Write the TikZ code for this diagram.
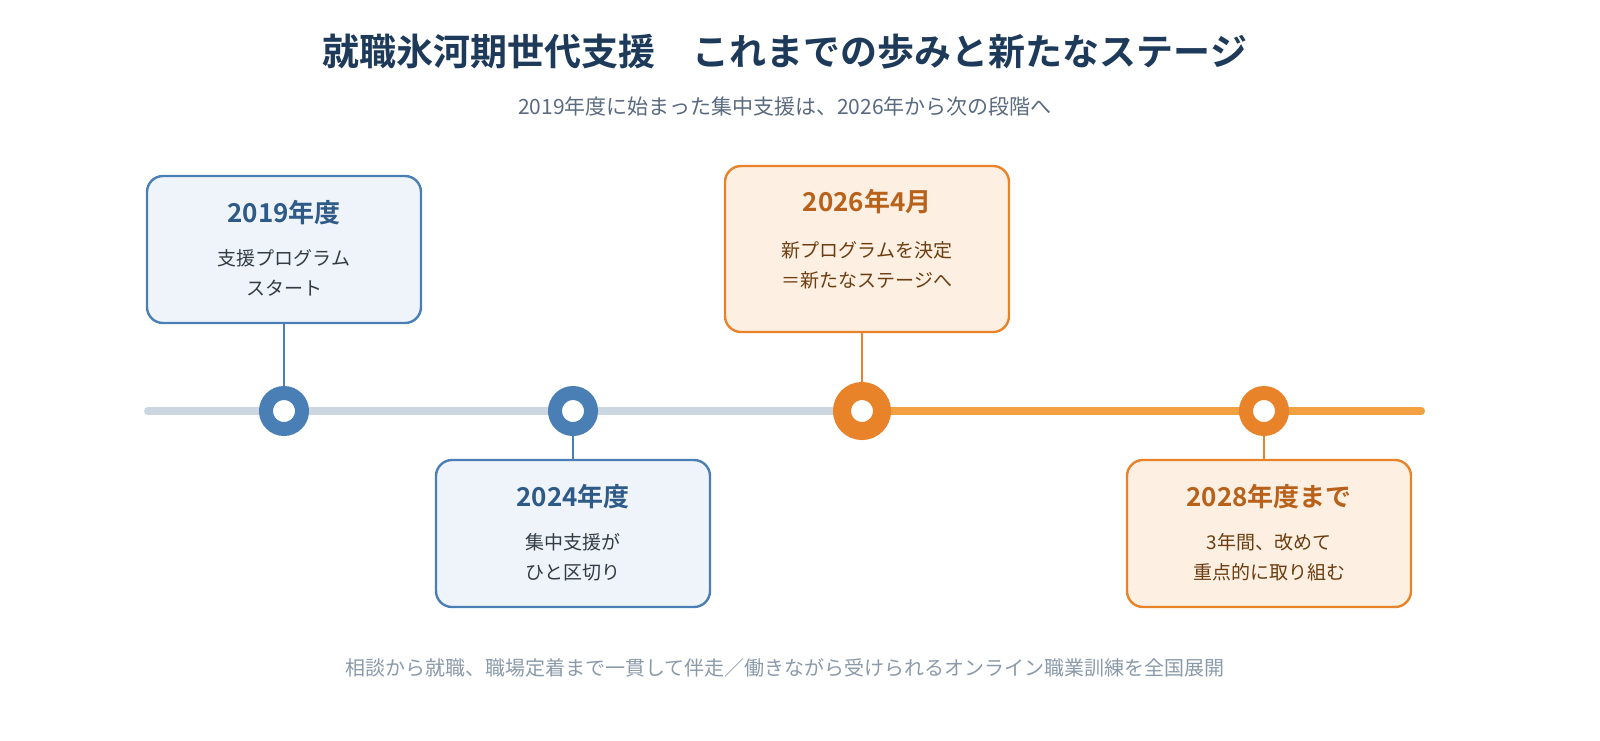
\documentclass[tikz,border=0pt]{standalone}
\usepackage{fontspec}
\setmainfont{Noto Sans CJK JP}[BoldFont=Noto Sans CJK JP Bold]
\definecolor{navy}{HTML}{1E3A5A}
\definecolor{sub}{HTML}{5A6A80}
\definecolor{blueM}{HTML}{4A7FB5}
\definecolor{blueL}{HTML}{EEF4FA}
\definecolor{orgM}{HTML}{E8832A}
\definecolor{orgL}{HTML}{FDF0E2}
\definecolor{grayL}{HTML}{CCD6E0}
\definecolor{orgLine}{HTML}{F2A040}
\definecolor{blueT}{HTML}{2E5A88}
\definecolor{orgT}{HTML}{B8611A}
\definecolor{dk}{HTML}{333B45}
\definecolor{br}{HTML}{6B3D10}
\definecolor{foot}{HTML}{8A9AAA}
\begin{document}
\begin{tikzpicture}[x=0.5pt,y=-0.5pt,
  box/.style={draw,line width=1.2pt,rounded corners=8pt,align=center,inner sep=0pt},
  bbox/.style={box,draw=blueM,fill=blueL},
  obox/.style={box,draw=orgM,fill=orgL},
  dot/.style={circle,fill=white,inner sep=0pt},
  yr/.style={font=\bfseries\fontsize{13}{15}\selectfont},
  bd/.style={align=center,font=\fontsize{9.5}{15}\selectfont}]
\node[text=navy,font=\bfseries\fontsize{18.5}{20}\selectfont] (title) at (785,52) {就職氷河期世代支援\quad これまでの歩みと新たなステージ};
\node[text=sub,font=\fontsize{10.5}{12}\selectfont] (subt) at (785,107) {2019年度に始まった集中支援は、2026年から次の段階へ};
\coordinate (ls) at (148,411); \coordinate (lm) at (862,411); \coordinate (le) at (1421,411);
\draw[grayL,line width=4pt,line cap=round] (ls) -- (lm);
\draw[orgLine,line width=4pt,line cap=round] (lm) -- (le);
\node[bbox,minimum width=137pt,minimum height=73.5pt] (b1) at (284,249.5) {};
\node[yr,text=blueT] at (284,213) {2019年度};
\node[bd,text=dk] at (284,273) {支援プログラム\\スタート};
\node[bbox,minimum width=137pt,minimum height=73.5pt] (b2) at (573,533.5) {};
\node[yr,text=blueT] at (573,497) {2024年度};
\node[bd,text=dk] at (573,557) {集中支援が\\ひと区切り};
\node[obox,minimum width=142pt,minimum height=83pt] (b3) at (867,249) {};
\node[yr,text=orgT] at (867,202) {2026年4月};
\node[bd,text=br] at (867,265) {新プログラムを決定\\＝新たなステージへ};
\node[obox,minimum width=142pt,minimum height=73.5pt] (b4) at (1269,533.5) {};
\node[yr,text=orgT] at (1269,497) {2028年度まで};
\node[bd,text=br] at (1269,557) {3年間、改めて\\重点的に取り組む};
\node[dot,draw=blueM,line width=7pt,minimum size=18pt] (c1) at (284,411) {};
\node[dot,draw=blueM,line width=7pt,minimum size=18pt] (c2) at (573,411) {};
\node[dot,draw=orgM,line width=9pt,minimum size=20pt] (c3) at (862,411) {};
\node[dot,draw=orgM,line width=7pt,minimum size=18pt] (c4) at (1264,411) {};
\draw[blueM,line width=1pt] (b1.south -| c1) -- (c1);
\draw[blueM,line width=1pt] (b2.north -| c2) -- (c2);
\draw[orgM,line width=1pt] (b3.south -| c3) -- (c3);
\draw[orgM,line width=1pt] (b4.north -| c4) -- (c4);
\node[text=foot,font=\fontsize{10}{11}\selectfont] (ft) at (785,668) {相談から就職、職場定着まで一貫して伴走／働きながら受けられるオンライン職業訓練を全国展開};
\pgfresetboundingbox
\useasboundingbox (0,0) rectangle (1600,740);
\end{tikzpicture}
\end{document}
